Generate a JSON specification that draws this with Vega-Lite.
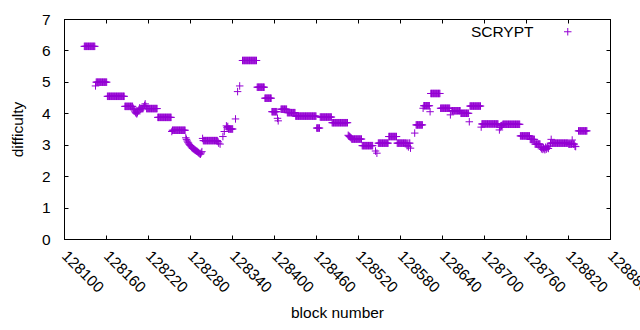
{
"$schema": "https://vega.github.io/schema/vega-lite/v6.json",
"width": 546, "height": 220,
"autosize": {"type": "none"},
"padding": {"left": 64, "top": 19, "right": 30, "bottom": 91},
"background": "white",
"config": {
  "font": "Liberation Sans",
  "view": {"stroke": "black", "strokeWidth": 1},
  "axis": {"grid": false, "domainColor": "black", "tickColor": "black", "labelColor": "black", "titleColor": "black", "labelFontSize": 15.5, "titleFontSize": 15.5, "titleFontWeight": "normal", "labelFont": "Liberation Sans", "titleFont": "Liberation Sans"}
},
"data": {"values": [
{"b":128129,"d":6.13},{"b":128130,"d":6.13},{"b":128131,"d":6.13},{"b":128132,"d":6.13},{"b":128133,"d":6.13},{"b":128134,"d":6.13},{"b":128135,"d":6.13},{"b":128136,"d":6.13},{"b":128137,"d":6.13},{"b":128138,"d":6.13},{"b":128139,"d":6.13},{"b":128140,"d":6.13},{"b":128141,"d":6.13},{"b":128142,"d":6.13},{"b":128143,"d":6.13},{"b":128144,"d":6.13},
{"b":128145,"d":4.87},
{"b":128146,"d":4.99},{"b":128147,"d":4.99},{"b":128148,"d":4.99},{"b":128149,"d":4.99},{"b":128150,"d":4.99},{"b":128151,"d":4.99},{"b":128152,"d":4.99},{"b":128153,"d":4.99},{"b":128154,"d":4.99},{"b":128155,"d":4.99},{"b":128156,"d":4.99},{"b":128157,"d":4.99},{"b":128158,"d":4.99},{"b":128159,"d":4.99},{"b":128160,"d":4.99},{"b":128161,"d":4.99},
{"b":128162,"d":4.54},{"b":128163,"d":4.54},{"b":128164,"d":4.54},{"b":128165,"d":4.54},{"b":128166,"d":4.54},{"b":128167,"d":4.54},{"b":128168,"d":4.54},{"b":128169,"d":4.54},{"b":128170,"d":4.54},{"b":128171,"d":4.54},{"b":128172,"d":4.54},{"b":128173,"d":4.54},{"b":128174,"d":4.54},{"b":128175,"d":4.54},{"b":128176,"d":4.54},{"b":128177,"d":4.54},{"b":128178,"d":4.54},{"b":128179,"d":4.54},{"b":128180,"d":4.54},{"b":128181,"d":4.54},{"b":128182,"d":4.54},{"b":128183,"d":4.54},{"b":128184,"d":4.54},{"b":128185,"d":4.54},{"b":128186,"d":4.54},
{"b":128187,"d":4.22},{"b":128188,"d":4.22},{"b":128189,"d":4.22},{"b":128190,"d":4.22},{"b":128191,"d":4.22},{"b":128192,"d":4.22},{"b":128193,"d":4.22},{"b":128194,"d":4.22},{"b":128195,"d":4.22},{"b":128196,"d":4.22},{"b":128197,"d":4.22},{"b":128198,"d":4.22},
{"b":128199,"d":4.16},{"b":128200,"d":4.11},{"b":128201,"d":4.07},{"b":128202,"d":4.03},{"b":128203,"d":4.0},{"b":128204,"d":3.98},{"b":128205,"d":4.02},{"b":128206,"d":4.07},{"b":128207,"d":4.12},{"b":128208,"d":4.17},
{"b":128209,"d":4.15},{"b":128210,"d":4.15},{"b":128211,"d":4.15},{"b":128212,"d":4.15},{"b":128213,"d":4.15},{"b":128214,"d":4.2},{"b":128215,"d":4.25},{"b":128216,"d":4.3},{"b":128217,"d":4.22},{"b":128218,"d":4.15},{"b":128219,"d":4.15},{"b":128220,"d":4.15},{"b":128221,"d":4.15},{"b":128222,"d":4.15},{"b":128223,"d":4.15},{"b":128224,"d":4.15},{"b":128225,"d":4.15},{"b":128226,"d":4.15},{"b":128227,"d":4.15},{"b":128228,"d":4.15},{"b":128229,"d":4.15},{"b":128230,"d":4.15},{"b":128231,"d":4.15},{"b":128232,"d":4.15},{"b":128233,"d":4.15},
{"b":128234,"d":3.87},{"b":128235,"d":3.87},{"b":128236,"d":3.87},{"b":128237,"d":3.87},{"b":128238,"d":3.87},{"b":128239,"d":3.87},{"b":128240,"d":3.87},{"b":128241,"d":3.87},{"b":128242,"d":3.87},{"b":128243,"d":3.87},{"b":128244,"d":3.87},{"b":128245,"d":3.87},{"b":128246,"d":3.87},{"b":128247,"d":3.87},{"b":128248,"d":3.87},{"b":128249,"d":3.87},{"b":128250,"d":3.87},{"b":128251,"d":3.87},{"b":128252,"d":3.87},{"b":128253,"d":3.87},
{"b":128254,"d":3.42},
{"b":128255,"d":3.46},{"b":128256,"d":3.46},{"b":128257,"d":3.46},{"b":128258,"d":3.46},{"b":128259,"d":3.46},{"b":128260,"d":3.46},{"b":128261,"d":3.46},{"b":128262,"d":3.46},{"b":128263,"d":3.46},{"b":128264,"d":3.46},{"b":128265,"d":3.46},{"b":128266,"d":3.46},{"b":128267,"d":3.46},{"b":128268,"d":3.46},{"b":128269,"d":3.46},{"b":128270,"d":3.46},{"b":128271,"d":3.46},{"b":128272,"d":3.46},{"b":128273,"d":3.46},
{"b":128274,"d":3.22},{"b":128275,"d":3.17},{"b":128276,"d":3.12},{"b":128277,"d":3.08},{"b":128278,"d":3.05},{"b":128279,"d":3.01},{"b":128280,"d":2.98},{"b":128281,"d":2.96},{"b":128282,"d":2.93},{"b":128283,"d":2.9},{"b":128284,"d":2.88},{"b":128285,"d":2.87},{"b":128286,"d":2.85},{"b":128287,"d":2.83},{"b":128288,"d":2.82},{"b":128289,"d":2.8},{"b":128290,"d":2.79},{"b":128291,"d":2.77},{"b":128292,"d":2.75},{"b":128293,"d":2.73},{"b":128294,"d":2.71},{"b":128295,"d":2.7},{"b":128296,"d":2.74},{"b":128297,"d":2.78},
{"b":128298,"d":3.2},
{"b":128299,"d":3.13},{"b":128300,"d":3.13},{"b":128301,"d":3.13},{"b":128302,"d":3.13},{"b":128303,"d":3.13},{"b":128304,"d":3.13},{"b":128305,"d":3.13},{"b":128306,"d":3.13},{"b":128307,"d":3.13},{"b":128308,"d":3.13},{"b":128309,"d":3.13},{"b":128310,"d":3.13},{"b":128311,"d":3.13},{"b":128312,"d":3.13},{"b":128313,"d":3.13},{"b":128314,"d":3.13},{"b":128315,"d":3.13},{"b":128316,"d":3.13},{"b":128317,"d":3.13},{"b":128318,"d":3.13},{"b":128319,"d":3.13},
{"b":128320,"d":3.1},{"b":128321,"d":3.05},{"b":128323,"d":3.02},
{"b":128327,"d":3.26},{"b":128329,"d":3.42},{"b":128332,"d":3.6},{"b":128333,"d":3.55},{"b":128334,"d":3.58},
{"b":128335,"d":3.5},{"b":128336,"d":3.5},{"b":128337,"d":3.5},{"b":128338,"d":3.5},{"b":128339,"d":3.5},{"b":128340,"d":3.5},{"b":128341,"d":3.5},
{"b":128345,"d":3.82},{"b":128348,"d":4.69},{"b":128351,"d":4.87},
{"b":128355,"d":5.68},{"b":128356,"d":5.68},{"b":128357,"d":5.68},{"b":128358,"d":5.68},{"b":128359,"d":5.68},{"b":128360,"d":5.68},{"b":128361,"d":5.68},{"b":128362,"d":5.68},{"b":128363,"d":5.68},{"b":128364,"d":5.68},{"b":128365,"d":5.68},{"b":128366,"d":5.68},{"b":128367,"d":5.68},{"b":128368,"d":5.68},{"b":128369,"d":5.68},{"b":128370,"d":5.68},{"b":128371,"d":5.68},{"b":128372,"d":5.68},{"b":128373,"d":5.68},{"b":128374,"d":5.68},{"b":128375,"d":5.68},
{"b":128376,"d":4.83},{"b":128377,"d":4.83},{"b":128378,"d":4.83},{"b":128379,"d":4.83},{"b":128380,"d":4.83},{"b":128381,"d":4.83},{"b":128382,"d":4.83},{"b":128383,"d":4.83},{"b":128384,"d":4.83},{"b":128385,"d":4.83},{"b":128386,"d":4.83},
{"b":128387,"d":4.48},{"b":128388,"d":4.48},{"b":128389,"d":4.48},{"b":128390,"d":4.48},{"b":128391,"d":4.48},{"b":128392,"d":4.48},{"b":128393,"d":4.48},{"b":128394,"d":4.48},{"b":128395,"d":4.48},{"b":128396,"d":4.48},
{"b":128397,"d":4.05},{"b":128398,"d":4.05},{"b":128399,"d":4.05},{"b":128400,"d":4.05},{"b":128401,"d":4.05},{"b":128402,"d":4.05},{"b":128403,"d":4.05},{"b":128404,"d":4.05},
{"b":128405,"d":3.84},{"b":128406,"d":3.76},
{"b":128410,"d":4.13},{"b":128411,"d":4.13},{"b":128412,"d":4.13},{"b":128413,"d":4.13},{"b":128414,"d":4.13},{"b":128415,"d":4.13},{"b":128416,"d":4.13},{"b":128417,"d":4.13},{"b":128418,"d":4.13},
{"b":128419,"d":4.02},{"b":128420,"d":4.02},{"b":128421,"d":4.02},{"b":128422,"d":4.02},{"b":128423,"d":4.02},{"b":128424,"d":4.02},{"b":128425,"d":4.02},{"b":128426,"d":4.02},{"b":128427,"d":4.02},{"b":128428,"d":4.02},{"b":128429,"d":4.02},{"b":128430,"d":4.02},
{"b":128431,"d":3.91},{"b":128432,"d":3.91},{"b":128433,"d":3.91},{"b":128434,"d":3.91},{"b":128435,"d":3.91},{"b":128436,"d":3.91},{"b":128437,"d":3.91},{"b":128438,"d":3.91},{"b":128439,"d":3.91},{"b":128440,"d":3.91},{"b":128441,"d":3.91},{"b":128442,"d":3.91},{"b":128443,"d":3.91},{"b":128444,"d":3.91},{"b":128445,"d":3.91},{"b":128446,"d":3.91},{"b":128447,"d":3.91},{"b":128448,"d":3.91},{"b":128449,"d":3.91},{"b":128450,"d":3.91},{"b":128451,"d":3.91},{"b":128452,"d":3.91},{"b":128453,"d":3.91},{"b":128454,"d":3.91},{"b":128455,"d":3.91},{"b":128456,"d":3.91},{"b":128457,"d":3.91},{"b":128458,"d":3.91},{"b":128459,"d":3.91},{"b":128460,"d":3.91},
{"b":128461,"d":3.53},{"b":128462,"d":3.53},{"b":128463,"d":3.53},{"b":128464,"d":3.53},{"b":128465,"d":3.53},
{"b":128466,"d":3.88},{"b":128467,"d":3.88},{"b":128468,"d":3.88},{"b":128469,"d":3.88},{"b":128470,"d":3.88},{"b":128471,"d":3.88},{"b":128472,"d":3.88},{"b":128473,"d":3.88},{"b":128474,"d":3.88},{"b":128475,"d":3.88},{"b":128476,"d":3.88},{"b":128477,"d":3.88},{"b":128478,"d":3.88},{"b":128479,"d":3.88},{"b":128480,"d":3.88},{"b":128481,"d":3.88},{"b":128482,"d":3.88},
{"b":128483,"d":3.7},{"b":128484,"d":3.7},{"b":128485,"d":3.7},{"b":128486,"d":3.7},{"b":128487,"d":3.7},{"b":128488,"d":3.7},{"b":128489,"d":3.7},{"b":128490,"d":3.7},{"b":128491,"d":3.7},{"b":128492,"d":3.7},{"b":128493,"d":3.7},{"b":128494,"d":3.7},{"b":128495,"d":3.7},{"b":128496,"d":3.7},{"b":128497,"d":3.7},{"b":128498,"d":3.7},{"b":128499,"d":3.7},{"b":128500,"d":3.7},{"b":128501,"d":3.7},{"b":128502,"d":3.7},{"b":128503,"d":3.7},{"b":128504,"d":3.7},{"b":128505,"d":3.7},
{"b":128506,"d":3.3},{"b":128507,"d":3.28},{"b":128508,"d":3.26},{"b":128509,"d":3.24},{"b":128510,"d":3.22},
{"b":128511,"d":3.18},{"b":128512,"d":3.18},{"b":128513,"d":3.18},{"b":128514,"d":3.18},{"b":128515,"d":3.18},{"b":128516,"d":3.18},{"b":128517,"d":3.18},{"b":128518,"d":3.18},{"b":128519,"d":3.18},{"b":128520,"d":3.18},{"b":128521,"d":3.18},{"b":128522,"d":3.18},{"b":128523,"d":3.18},{"b":128524,"d":3.18},{"b":128525,"d":3.18},
{"b":128526,"d":2.97},{"b":128527,"d":2.97},{"b":128528,"d":2.97},{"b":128529,"d":2.97},{"b":128530,"d":2.97},{"b":128531,"d":2.97},{"b":128532,"d":2.97},{"b":128533,"d":2.97},{"b":128534,"d":2.97},{"b":128535,"d":2.97},{"b":128536,"d":2.97},{"b":128537,"d":2.97},{"b":128538,"d":2.97},{"b":128539,"d":2.97},{"b":128540,"d":2.97},{"b":128541,"d":2.97},
{"b":128545,"d":2.8},{"b":128547,"d":2.73},
{"b":128549,"d":3.05},{"b":128550,"d":3.05},{"b":128551,"d":3.05},{"b":128552,"d":3.05},{"b":128553,"d":3.05},{"b":128554,"d":3.05},{"b":128555,"d":3.05},{"b":128556,"d":3.05},{"b":128557,"d":3.05},{"b":128558,"d":3.05},{"b":128559,"d":3.05},{"b":128560,"d":3.05},{"b":128561,"d":3.05},{"b":128562,"d":3.05},{"b":128563,"d":3.05},
{"b":128564,"d":3.26},{"b":128565,"d":3.26},{"b":128566,"d":3.26},{"b":128567,"d":3.26},{"b":128568,"d":3.26},{"b":128569,"d":3.26},{"b":128570,"d":3.26},{"b":128571,"d":3.26},{"b":128572,"d":3.26},{"b":128573,"d":3.26},{"b":128574,"d":3.26},{"b":128575,"d":3.26},
{"b":128576,"d":3.05},{"b":128577,"d":3.05},{"b":128578,"d":3.05},{"b":128579,"d":3.05},{"b":128580,"d":3.05},{"b":128581,"d":3.05},{"b":128582,"d":3.05},{"b":128583,"d":3.05},{"b":128584,"d":3.05},{"b":128585,"d":3.05},{"b":128586,"d":3.05},{"b":128587,"d":3.05},{"b":128588,"d":3.05},{"b":128589,"d":3.05},{"b":128590,"d":2.97},{"b":128591,"d":3.05},{"b":128592,"d":2.93},{"b":128593,"d":3.05},{"b":128594,"d":3.05},
{"b":128595,"d":2.89},{"b":128601,"d":3.37},
{"b":128603,"d":3.63},{"b":128604,"d":3.63},{"b":128605,"d":3.63},{"b":128606,"d":3.63},{"b":128607,"d":3.63},{"b":128608,"d":3.63},{"b":128609,"d":3.63},{"b":128610,"d":3.63},{"b":128611,"d":3.63},{"b":128612,"d":3.63},
{"b":128613,"d":4.16},
{"b":128614,"d":4.24},{"b":128615,"d":4.24},{"b":128616,"d":4.24},{"b":128617,"d":4.24},{"b":128618,"d":4.24},{"b":128619,"d":4.24},{"b":128620,"d":4.24},{"b":128621,"d":4.24},{"b":128622,"d":4.24},
{"b":128623,"d":4.05},
{"b":128624,"d":4.63},{"b":128625,"d":4.63},{"b":128626,"d":4.63},{"b":128627,"d":4.63},{"b":128628,"d":4.63},{"b":128629,"d":4.63},{"b":128630,"d":4.63},{"b":128631,"d":4.63},{"b":128632,"d":4.63},{"b":128633,"d":4.63},{"b":128634,"d":4.63},{"b":128635,"d":4.63},{"b":128636,"d":4.63},{"b":128637,"d":4.63},
{"b":128638,"d":4.16},{"b":128639,"d":4.16},{"b":128640,"d":4.16},{"b":128641,"d":4.16},{"b":128642,"d":4.16},{"b":128643,"d":4.16},{"b":128644,"d":4.16},{"b":128645,"d":4.16},{"b":128646,"d":4.16},{"b":128647,"d":4.16},{"b":128648,"d":4.16},{"b":128649,"d":4.16},{"b":128650,"d":4.16},{"b":128651,"d":4.16},
{"b":128652,"d":3.95},
{"b":128654,"d":4.08},{"b":128655,"d":4.08},{"b":128656,"d":4.08},{"b":128657,"d":4.08},{"b":128658,"d":4.08},{"b":128659,"d":4.08},{"b":128660,"d":4.08},{"b":128661,"d":4.08},{"b":128662,"d":4.08},{"b":128663,"d":4.08},{"b":128664,"d":4.08},{"b":128665,"d":4.08},{"b":128666,"d":4.08},
{"b":128667,"d":4.0},{"b":128668,"d":4.0},{"b":128669,"d":4.0},{"b":128670,"d":4.0},{"b":128671,"d":4.0},{"b":128672,"d":4.0},{"b":128673,"d":4.0},{"b":128674,"d":4.0},{"b":128675,"d":4.0},{"b":128676,"d":4.0},{"b":128677,"d":4.0},{"b":128678,"d":4.0},
{"b":128679,"d":3.73},
{"b":128680,"d":4.23},{"b":128681,"d":4.23},{"b":128682,"d":4.23},{"b":128683,"d":4.23},{"b":128684,"d":4.23},{"b":128685,"d":4.23},{"b":128686,"d":4.23},{"b":128687,"d":4.23},{"b":128688,"d":4.23},{"b":128689,"d":4.23},{"b":128690,"d":4.23},{"b":128691,"d":4.23},{"b":128692,"d":4.23},{"b":128693,"d":4.23},{"b":128694,"d":4.23},{"b":128695,"d":4.23},
{"b":128696,"d":3.56},
{"b":128697,"d":3.66},{"b":128698,"d":3.66},{"b":128699,"d":3.66},{"b":128700,"d":3.66},{"b":128701,"d":3.66},{"b":128702,"d":3.66},{"b":128703,"d":3.66},{"b":128704,"d":3.66},{"b":128705,"d":3.66},{"b":128706,"d":3.66},{"b":128707,"d":3.66},{"b":128708,"d":3.66},{"b":128709,"d":3.66},{"b":128710,"d":3.66},{"b":128711,"d":3.66},{"b":128712,"d":3.66},{"b":128713,"d":3.66},{"b":128714,"d":3.66},{"b":128715,"d":3.66},{"b":128716,"d":3.66},{"b":128717,"d":3.66},{"b":128718,"d":3.66},{"b":128719,"d":3.66},{"b":128720,"d":3.66},
{"b":128722,"d":3.47},{"b":128723,"d":3.55},{"b":128724,"d":3.6},{"b":128725,"d":3.6},{"b":128726,"d":3.62},
{"b":128727,"d":3.65},{"b":128728,"d":3.65},{"b":128729,"d":3.65},{"b":128730,"d":3.65},{"b":128731,"d":3.65},{"b":128732,"d":3.65},{"b":128733,"d":3.65},{"b":128734,"d":3.65},{"b":128735,"d":3.65},{"b":128736,"d":3.65},{"b":128737,"d":3.65},{"b":128738,"d":3.65},{"b":128739,"d":3.65},{"b":128740,"d":3.65},{"b":128741,"d":3.65},{"b":128742,"d":3.65},{"b":128743,"d":3.65},{"b":128744,"d":3.65},{"b":128745,"d":3.65},{"b":128746,"d":3.65},{"b":128747,"d":3.65},{"b":128748,"d":3.65},{"b":128749,"d":3.65},{"b":128750,"d":3.65},{"b":128751,"d":3.65},
{"b":128752,"d":3.28},{"b":128753,"d":3.28},{"b":128754,"d":3.28},{"b":128755,"d":3.28},{"b":128756,"d":3.28},{"b":128757,"d":3.28},{"b":128758,"d":3.28},{"b":128759,"d":3.28},{"b":128760,"d":3.28},{"b":128761,"d":3.28},{"b":128762,"d":3.28},{"b":128763,"d":3.28},{"b":128764,"d":3.28},{"b":128765,"d":3.28},
{"b":128766,"d":3.17},{"b":128767,"d":3.17},{"b":128768,"d":3.17},{"b":128769,"d":3.17},{"b":128770,"d":3.17},{"b":128771,"d":3.17},{"b":128772,"d":3.17},
{"b":128773,"d":3.02},{"b":128774,"d":3.02},{"b":128775,"d":3.02},{"b":128776,"d":3.02},{"b":128777,"d":3.02},{"b":128778,"d":3.02},{"b":128779,"d":3.02},{"b":128780,"d":3.02},
{"b":128781,"d":2.92},{"b":128782,"d":2.87},{"b":128783,"d":2.92},{"b":128784,"d":2.85},{"b":128785,"d":2.9},{"b":128786,"d":2.87},{"b":128787,"d":2.84},{"b":128788,"d":2.92},{"b":128789,"d":2.86},{"b":128790,"d":2.9},{"b":128791,"d":2.94},{"b":128792,"d":2.88},{"b":128793,"d":2.96},
{"b":128795,"d":3.05},{"b":128796,"d":3.17},{"b":128797,"d":3.05},{"b":128798,"d":3.05},{"b":128799,"d":3.05},{"b":128800,"d":3.05},{"b":128801,"d":3.05},{"b":128802,"d":3.05},{"b":128803,"d":3.05},{"b":128804,"d":3.05},{"b":128805,"d":3.05},{"b":128806,"d":3.05},{"b":128807,"d":3.05},{"b":128808,"d":3.05},{"b":128809,"d":3.05},{"b":128810,"d":3.05},{"b":128811,"d":3.05},{"b":128812,"d":3.05},{"b":128813,"d":3.05},{"b":128814,"d":3.05},{"b":128815,"d":3.05},{"b":128816,"d":3.05},{"b":128817,"d":3.05},{"b":128818,"d":3.05},{"b":128819,"d":3.05},{"b":128820,"d":3.05},
{"b":128821,"d":3.02},{"b":128822,"d":3.02},{"b":128823,"d":3.02},{"b":128824,"d":3.02},{"b":128825,"d":3.02},{"b":128826,"d":3.15},{"b":128827,"d":3.02},{"b":128828,"d":3.02},{"b":128829,"d":3.02},{"b":128830,"d":2.95},{"b":128831,"d":2.94},
{"b":128835,"d":3.44},{"b":128836,"d":3.44},{"b":128837,"d":3.44},{"b":128838,"d":3.44},{"b":128839,"d":3.44},{"b":128840,"d":3.44},{"b":128841,"d":3.44},{"b":128842,"d":3.44},{"b":128843,"d":3.44},{"b":128844,"d":3.44},{"b":128845,"d":3.44},{"b":128846,"d":3.44},{"b":128847,"d":3.44}
]},
"layer": [
  {
    "mark": {"type": "point", "shape": "M-1,0L1,0M0,-1L0,1", "filled": false, "strokeWidth": 1, "opacity": 1, "size": 56},
    "encoding": {
      "x": {"field": "b", "type": "quantitative", "scale": {"domain": [128100, 128880], "nice": false, "zero": false},
        "axis": {"orient": "bottom", "title": "block number", "values": [128100,128160,128220,128280,128340,128400,128460,128520,128580,128640,128700,128760,128820,128880], "format": "d", "labelAngle": 45, "labelAlign": "left", "labelBaseline": "middle", "tickSize": -4, "labelPadding": 18, "labelOverlap": false, "labelBound": false, "labelFlush": false, "titlePadding": 10}},
      "y": {"field": "d", "type": "quantitative", "scale": {"domain": [0, 7], "nice": false, "zero": true},
        "axis": {"orient": "left", "title": "difficulty", "values": [0,1,2,3,4,5,6,7], "format": "d", "tickSize": -4, "labelPadding": 18, "titlePadding": 16}},
      "color": {"datum": "SCRYPT", "type": "nominal", "scale": {"range": ["#9400d3"]},
        "legend": {"title": null, "orient": "none", "legendX": 496, "legendY": 5, "padding": 0, "symbolType": "M-1,0L1,0M0,-1L0,1", "symbolSize": 56, "symbolStrokeWidth": 1, "symbolFillColor": "transparent", "labelAlign": "right", "labelOffset": -42, "labelFontSize": 15.5, "labelFont": "Liberation Sans", "labelColor": "black"}}
    }
  },
  {
    "mark": {"type": "point", "opacity": 0},
    "encoding": {
      "x": {"field": "b", "type": "quantitative", "axis": {"orient": "top", "title": null, "labels": false, "values": [128100,128160,128220,128280,128340,128400,128460,128520,128580,128640,128700,128760,128820,128880], "tickSize": -4}},
      "y": {"field": "d", "type": "quantitative", "axis": {"orient": "right", "title": null, "labels": false, "values": [0,1,2,3,4,5,6,7], "tickSize": -4}}
    }
  }
],
"resolve": {"axis": {"x": "independent", "y": "independent"}}
}
